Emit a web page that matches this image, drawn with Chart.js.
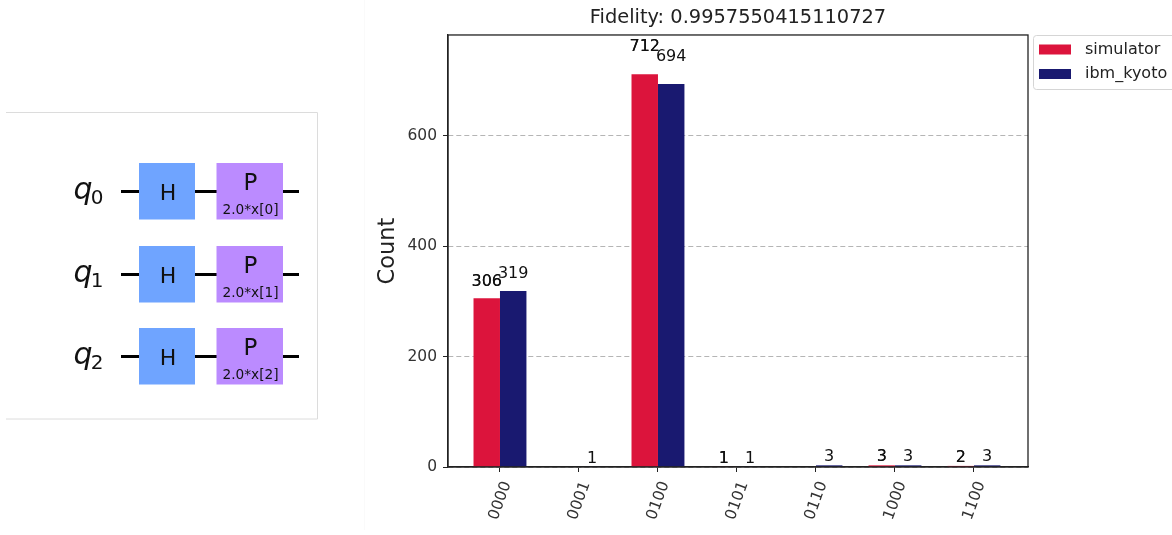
<!DOCTYPE html>
<html>
<head>
<meta charset="utf-8">
<style>
  html, body { margin: 0; padding: 0; background: #fff; overflow: hidden; }
  #wrap { position: relative; width: 1172px; height: 535px; }
  #circuit { position: absolute; left: 0; top: 0; }
  #chart { position: absolute; left: 0; top: 0; }
  svg text { font-family: "DejaVu Sans"; fill: #111; text-anchor: middle; }
</style>
</head>
<body>
<div id="wrap">
  <canvas id="chart" width="1172" height="535" style="width:1172px;height:535px"></canvas>
  <svg id="circuit" width="365" height="535"></svg>
</div>
<script src="https://cdn.jsdelivr.net/npm/chart.js@4"></script>
<script>
const categories = ['0000', '0001', '0100', '0101', '0110', '1000', '1100'];
const simulator = [306, null, 712, 1, null, 3, 2];
const ibmKyoto = [319, 1, 694, 1, 3, 3, 3];
const yTicks = [0, 200, 400, 600];
const qubits = ['0', '1', '2'];
const fontName = '"DejaVu Sans"';

// circuit diagram on the left, not data
const svg = document.getElementById('circuit');
function add(tag, attrs, text) {
    const el = document.createElementNS('http://www.w3.org/2000/svg', tag);
    for (const k in attrs) el.setAttribute(k, attrs[k]);
    if (text !== undefined) el.textContent = text;
    svg.appendChild(el);
    return el;
}
add('path', { d: 'M6 112.5H317.5V419H6', fill: 'none', stroke: '#dcdcdc', 'stroke-width': 1 });
add('line', { x1: 365, y1: 0, x2: 365, y2: 530, stroke: '#f4f4f4', 'stroke-width': 1 });
qubits.forEach((q, i) => {
    const top = [163, 246, 328][i];
    const mid = top + 28.5;
    add('line', { x1: 121, y1: mid, x2: 299, y2: mid, stroke: '#000', 'stroke-width': 3 });
    add('rect', { x: 139, y: top, width: 56, height: 56.5, fill: '#6fa4ff' });
    add('rect', { x: 216.5, y: top, width: 66.5, height: 56.5, fill: '#bb8bff' });
    add('text', { x: 168, y: mid + 8, 'font-size': 22 }, 'H');
    add('text', { x: 250.5, y: mid - 2, 'font-size': 23 }, 'P');
    add('text', { x: 250.5, y: mid + 22, 'font-size': 13.7 }, '2.0*x[' + q + ']');
    add('text', { x: 83, y: mid + 7, 'font-size': 30, 'font-style': 'italic' }, 'q');
    add('text', { x: 97, y: mid + 12, 'font-size': 20 }, q);
});

// frame, value labels and legend box
const extras = {
    id: 'extras',
    afterDatasetsDraw(chart) {
        const { ctx, chartArea: a, scales: { y } } = chart;
        ctx.save();
        ctx.strokeStyle = '#222';
        ctx.lineWidth = 1.3;
        ctx.strokeRect(a.left, a.top, a.right - a.left, a.bottom - a.top);

        ctx.font = '16px ' + fontName;
        ctx.fillStyle = '#111';
        ctx.textAlign = 'center';
        ctx.textBaseline = 'bottom';
        chart.data.datasets.forEach((ds, d) => {
            const bars = chart.getDatasetMeta(d).data;
            ds.data.forEach((p, i) => {
                if (p.y === null) return;
                const py = y.getPixelForValue(p.y * 1.05);
                ctx.fillText(String(p.y), bars[i].x, py);
                // first series labels look drawn twice in the source
                if (d === 0) ctx.fillText(String(p.y), bars[i].x, py);
            });
        });

        ctx.fillStyle = '#fff';
        ctx.strokeStyle = '#d5d5d5';
        ctx.lineWidth = 1;
        ctx.beginPath();
        ctx.roundRect(1033.5, 35.5, 145, 54, 3);
        ctx.fill();
        ctx.stroke();
        ctx.textAlign = 'left';
        ctx.textBaseline = 'middle';
        chart.data.datasets.forEach((ds, d) => {
            const rowY = 49.5 + d * 24.5;
            ctx.fillStyle = ds.backgroundColor;
            ctx.fillRect(1039, rowY - 5, 32, 10);
            ctx.fillStyle = '#222';
            ctx.fillText(ds.label, 1085, rowY);
        });
        ctx.restore();
    }
};

new Chart(document.getElementById('chart'), {
    type: 'bar',
    data: {
        datasets: [
            { label: 'simulator', data: simulator.map((v, i) => ({ x: i, y: v })), backgroundColor: 'crimson' },
            { label: 'ibm_kyoto', data: ibmKyoto.map((v, i) => ({ x: i, y: v })), backgroundColor: 'midnightblue' }
        ]
    },
    options: {
        responsive: false,
        animation: false,
        devicePixelRatio: 1,
        layout: { padding: { left: 372, right: 144, top: 0, bottom: 0 } },
        categoryPercentage: 0.67,
        barPercentage: 1,
        plugins: {
            legend: { display: false },
            tooltip: { enabled: false },
            title: {
                display: true,
                fullSize: false,
                text: 'Fidelity: 0.9957550415110727',
                color: '#222',
                font: { family: fontName, size: 19.4, weight: 'normal', lineHeight: 1.2 },
                padding: { top: 6.5, bottom: 5.2 }
            }
        },
        scales: {
            x: {
                type: 'linear',
                offset: false,
                min: -0.658,
                max: 6.684,
                afterBuildTicks: s => { s.ticks = categories.map((c, i) => ({ value: i })); },
                afterFit: s => { s.height = 68; },
                grid: { offset: false, drawOnChartArea: false, tickColor: '#222', tickLength: 5 },
                border: { color: '#222', width: 1.3 },
                ticks: {
                    callback: v => categories[v],
                    color: '#333',
                    font: { family: fontName, size: 15.5 },
                    minRotation: 70,
                    maxRotation: 70,
                    padding: 7,
                    labelOffset: 7,
                    autoSkip: false
                }
            },
            y: {
                min: 0,
                max: 783,
                afterBuildTicks: s => { s.ticks = yTicks.map(v => ({ value: v })); },
                afterFit: s => { s.width = 76; },
                grid: { color: '#b5b5b5', tickColor: '#222', tickLength: 5, lineWidth: 1 },
                border: { color: '#222', width: 1.3, dash: [5, 3] },
                ticks: { color: '#333', font: { family: fontName, size: 15.5 }, padding: 6 },
                title: {
                    display: true,
                    text: 'Count',
                    color: '#222',
                    font: { family: fontName, size: 22.5 },
                    padding: { top: 3, bottom: 0 }
                }
            }
        }
    },
    plugins: [extras]
});
</script>
</body>
</html>
